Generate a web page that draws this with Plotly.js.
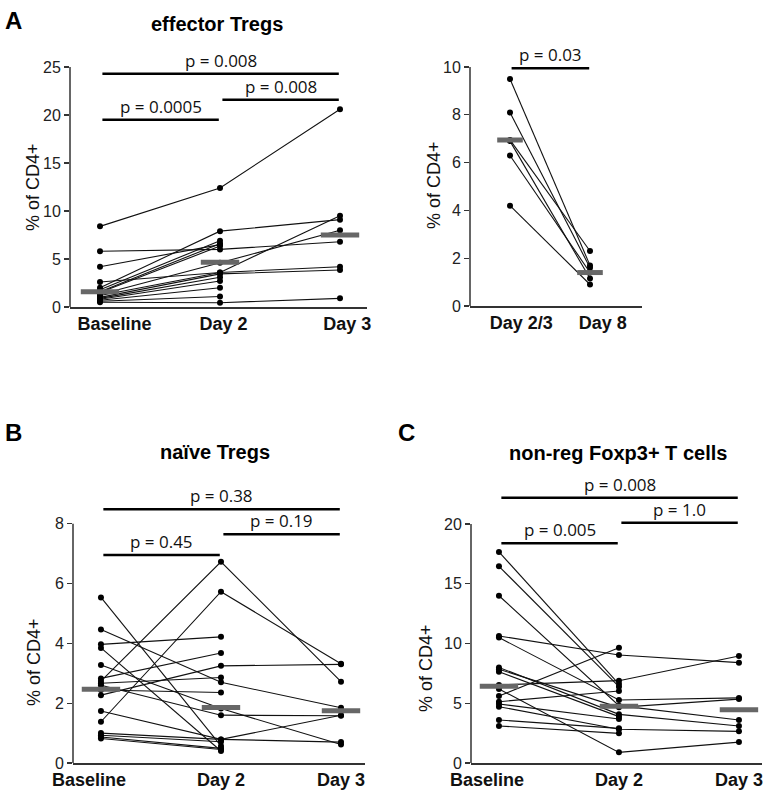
<!DOCTYPE html>
<html>
<head>
<meta charset="utf-8">
<script src="https://cdn.plot.ly/plotly-3.0.1.min.js"></script>
<style>html,body{margin:0;padding:0;background:#fff;}#chart{width:768px;height:801px;}</style>
</head>
<body>
<div id="chart"></div>
<script>
// ---------- DATA ----------
// Panel A (left): effector Tregs, one entry per subject
const catsTrio = ['Baseline', 'Day 2', 'Day 3'];
const effBaseline = [8.4, 5.8, 4.2, 2.6, 2.0, 1.8, 1.6, 1.5, 1.3, 1.2, 1.0, 0.9, 0.8, 0.7, 0.6, 0.5];
const effDay2     = [12.4, 6.0, 6.5, 3.6, 7.9, 6.9, 6.6, 6.35, 4.6, 3.6, 3.45, 3.1, 2.7, 2.0, 1.1, 0.45];
const effDay3     = [20.6, 6.8, null, 4.2, 9.1, null, null, null, 8.0, 9.5, 3.85, null, null, null, null, 0.9];
const effMedians  = [1.6, 4.65, 7.5];
const effComparisons = [[0, 2], [1, 2], [0, 1]];
const effPLabels  = ['p = 0.008', 'p = 0.008', 'p = 0.0005'];
const effBarLevels = [24.3, 21.6, 19.5];

// Panel A (right): effector Tregs Day 2/3 vs Day 8
const catsPair = ['Day 2/3', 'Day 8'];
const effD23 = [9.5, 8.1, 6.95, 6.9, 6.3, 4.2];
const effD8  = [1.7, 1.6, 2.3, 1.15, 1.4, 0.9];
const effPairMedians = [6.95, 1.4];
const effPairComparisons = [[0, 1]];
const effPairPLabels = ['p = 0.03'];
const effPairBarLevels = [9.95];

// Panel B: naive Tregs
const nvBaseline = [5.54, 4.47, 3.97, 3.85, 3.28, 2.83, 2.74, 2.67, 2.44, 2.27, 1.74, 1.38, 1.0, 0.93, 0.87, 0.82, 2.6];
const nvDay2     = [0.57, 2.7, 4.22, 0.4, 1.82, 3.68, 6.73, 2.86, 2.36, 3.25, 0.79, 5.73, 0.79, 0.71, 0.49, 0.45, 1.6];
const nvDay3     = [null, 1.85, null, null, 0.62, null, 2.72, null, null, 3.3, 1.6, 3.32, 0.7, null, null, null, 1.58];
const nvMedians  = [2.47, 1.86, 1.75];
const nvComparisons = [[0, 2], [1, 2], [0, 1]];
const nvPLabels  = ['p = 0.38', 'p = 0.19', 'p = 0.45'];
const nvBarLevels = [8.49, 7.65, 6.96];

// Panel C: non-reg Foxp3+ T cells
const nrBaseline = [17.66, 16.46, 14.0, 10.63, 10.5, 8.0, 7.85, 7.64, 6.53, 6.2, 5.6, 5.13, 4.94, 4.71, 3.6, 3.1];
const nrDay2     = [6.61, 6.39, 4.8, 9.04, 5.27, 4.07, 4.66, 3.88, 6.89, 0.89, 9.65, 6.02, 3.68, 2.82, 2.9, 2.48];
const nrDay3     = [null, null, 3.6, 8.4, 5.45, 3.1, 5.35, null, 8.95, 1.75, null, null, null, 2.65, null, null];
const nrMedians  = [6.42, 4.74, 4.46];
const nrComparisons = [[0, 2], [1, 2], [0, 1]];
const nrPLabels  = ['p = 0.008', 'p = 1.0', 'p = 0.005'];
const nrBarLevels = [22.2, 20.1, 18.4];

// ---------- BUILD ----------
const traces = [];
const shapes = [];
const annotations = [];
const W = 768, H = 801;
const px = v => v / W;
const py = v => 1 - v / H;

function addPanel(cols, medians, xa, ya, comps, pLabels, barLevels) {
  const n = cols[0].length;
  for (let i = 0; i < n; i++) {
    traces.push({
      x: cols.map((c, j) => j), y: cols.map(c => c[i]),
      xaxis: xa, yaxis: ya, type: 'scatter', mode: 'lines+markers',
      line: {color: '#111', width: 1.1}, marker: {color: '#000', size: 6},
      connectgaps: false, cliponaxis: false, hoverinfo: 'skip', showlegend: false
    });
  }
  medians.forEach((m, j) => {
    traces.push({
      x: [j - 0.16, j + 0.16], y: [m, m], xaxis: xa, yaxis: ya,
      type: 'scatter', mode: 'lines', line: {color: '#676767', width: 5},
      hoverinfo: 'skip', showlegend: false
    });
  });
  comps.forEach((c, k) => {
    const x0 = c[0] + 0.02, x1 = c[1] - 0.01;
    shapes.push({type: 'line', xref: xa, yref: ya, x0: x0, x1: x1, y0: barLevels[k], y1: barLevels[k],
      line: {color: '#000', width: 2.5}});
    annotations.push({xref: xa, yref: ya, x: (x0 + x1) / 2, y: barLevels[k], yanchor: 'bottom',
      xanchor: 'center', showarrow: false, text: pLabels[k], yshift: 0,
      font: {family: 'Open Sans', size: 17, color: '#111'}});
  });
}

addPanel([effBaseline, effDay2, effDay3], effMedians, 'x', 'y', effComparisons, effPLabels, effBarLevels);
addPanel([effD23, effD8], effPairMedians, 'x2', 'y2', effPairComparisons, effPairPLabels, effPairBarLevels);
addPanel([nvBaseline, nvDay2, nvDay3], nvMedians, 'x3', 'y3', nvComparisons, nvPLabels, nvBarLevels);
addPanel([nrBaseline, nrDay2, nrDay3], nrMedians, 'x4', 'y4', nrComparisons, nrPLabels, nrBarLevels);

const catFont = {family: 'Liberation Sans', size: 18, color: '#111', weight: 'bold'};
const tickFont = {family: 'Liberation Sans', size: 16, color: '#222'};

function xAxis(domain, range, tickvals, ticktext, anchor) {
  return {domain: domain, range: range, showline: true, linecolor: '#333', linewidth: 1.5,
    zeroline: false, showgrid: false, ticks: '', tickvals: tickvals, ticktext: ticktext,
    tickfont: catFont, fixedrange: true, anchor: anchor};
}
function yAxis(domain, range, dtick, anchor) {
  return {domain: domain, range: range, dtick: dtick, showline: false, zeroline: false, showgrid: false,
    ticks: 'outside', ticklen: 5, tickwidth: 1.2, tickcolor: '#333', tickfont: tickFont,
    anchor: anchor, fixedrange: true};
}

const dA  = [px(70), px(367)],  dAr = [px(470), px(642)];
const dB  = [px(73), px(365)],  dC  = [px(471), px(762)];
const yDA = [py(307), py(52.6)], yDAr = [py(306), py(52.7)];
const yDB = [py(763), py(485)],  yDC  = [py(763), py(484.6)];

const layout = {
  width: W, height: H, margin: {l: 0, r: 0, t: 0, b: 0},
  paper_bgcolor: '#fff', plot_bgcolor: 'rgba(0,0,0,0)', showlegend: false,
  font: {family: 'Liberation Sans', color: '#111'},
  xaxis:  xAxis(dA, [-0.25, 2.225], [0.12, 1.03, 2.06], catsTrio, 'y'),
  yaxis:  yAxis(yDA, [0, 26.5], 5, 'x'),
  xaxis2: xAxis(dAr, [-0.5, 1.65], [0.14, 1.16], catsPair, 'y2'),
  yaxis2: yAxis(yDAr, [0, 10.6], 2, 'x2'),
  xaxis3: xAxis(dB, [-0.233, 2.2], [-0.1, 1.0, 2.0], catsTrio, 'y3'),
  yaxis3: yAxis(yDB, [0, 9.3], 2, 'x3'),
  xaxis4: xAxis(dC, [-0.233, 2.192], [-0.1, 1.0, 2.0], catsTrio, 'y4'),
  yaxis4: yAxis(yDC, [0, 23.3], 5, 'x4'),
  shapes: shapes,
  annotations: annotations
};

// y axis lines ending at top tick
[[dA[0], 'y', 25], [dAr[0], 'y2', 10], [dB[0], 'y3', 8], [dC[0], 'y4', 20]].forEach(a => {
  shapes.push({type: 'line', xref: 'paper', yref: a[1], x0: a[0], x1: a[0], y0: 0, y1: a[2],
    line: {color: '#333', width: 1.5}});
});

function paperText(x, y, text, font, extra) {
  annotations.push(Object.assign({xref: 'paper', yref: 'paper', x: px(x), y: py(y), text: text,
    showarrow: false, xanchor: 'center', yanchor: 'middle', font: font}, extra || {}));
}
const letterFont = {family: 'Liberation Sans', size: 24, color: '#000', weight: 'bold'};
const titleFont = {family: 'Liberation Sans', size: 20, color: '#000', weight: 'bold'};
const yTitleFont = {family: 'Liberation Sans', size: 18, color: '#111'};
paperText(13, 21, 'A', letterFont);
paperText(13, 432, 'B', letterFont);
paperText(406, 432, 'C', letterFont);
paperText(217, 24, 'effector Tregs', titleFont);
paperText(215, 452, 'naïve Tregs', titleFont);
paperText(618, 453, 'non-reg Foxp3+ T cells', titleFont);
paperText(33, 187, '% of CD4+', yTitleFont, {textangle: -90});
paperText(434, 185, '% of CD4+', yTitleFont, {textangle: -90});
paperText(34, 662, '% of CD4+', yTitleFont, {textangle: -90});
paperText(426, 668, '% of CD4+', yTitleFont, {textangle: -90});

Plotly.newPlot('chart', traces, layout, {displayModeBar: false, staticPlot: true});
</script>
</body>
</html>
